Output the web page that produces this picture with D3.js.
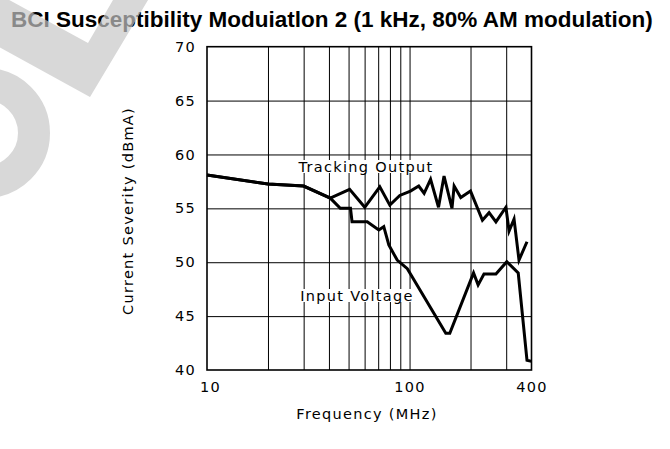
<!DOCTYPE html>
<html>
<head>
<meta charset="utf-8">
<script src="https://cdn.jsdelivr.net/npm/d3@7"></script>
<style>
  body { margin: 0; background: #fff; }
  svg { display: block; }
  .lbl { font-family: "DejaVu Sans", sans-serif; font-size: 14.5px; letter-spacing: 1.3px; fill: #000; }
</style>
</head>
<body>
<div id="chart"></div>
<script>
// data (frequency in MHz, current in dBmA)
var trackFreq = [10, 20, 30, 40.6, 50.6, 60.1, 71.3, 79.9, 89.5, 101, 111, 118, 127, 139, 148, 162, 166, 179, 200, 229, 247, 267, 299, 310, 328, 347, 380]
var trackVal = [58.1, 57.25, 57.07, 55.95, 56.76, 55.1, 57.0, 55.3, 56.2, 56.6, 57.07, 56.4, 57.7, 55.1, 58.0, 55.0, 57.07, 56.0, 56.6, 53.9, 54.6, 53.75, 55.1, 52.9, 54.0, 50.2, 51.9]
var inputFreq = [10, 20, 30, 40.6, 45.5, 51.1, 52, 61.8, 70.5, 74.6, 79, 86.9, 97.5, 151, 158, 207, 218, 233, 267, 302, 344, 380, 400]
var inputVal = [58.1, 57.25, 57.07, 55.95, 55.0, 55.0, 53.76, 53.76, 53.0, 53.3, 51.6, 50.2, 49.4, 43.4, 43.4, 49.0, 47.9, 48.9, 48.9, 50.05, 49.0, 40.9, 40.8]
var xGrid = [20, 30, 40, 50, 60, 70, 80, 90, 100, 200, 300]
var yGrid = [45, 50, 55, 60, 65]
var xTickLabels = [10, 100, 400]
var yTickLabels = [40, 45, 50, 55, 60, 65, 70]

var width = 670
var height = 449
var plot = {left: 207, right: 531.5, top: 46.7, bottom: 370}

var svg = d3.select('#chart').append('svg')
  .attr('width', width)
  .attr('height', height)

var x = d3.scaleLog().domain([10, 400]).range([plot.left, plot.right])
var y = d3.scaleLinear().domain([40, 70]).range([plot.bottom, plot.top])

// 网格
svg.append('g')
  .attr('transform', 'translate(0,' + plot.bottom + ')')
  .call(d3.axisBottom(x).tickValues(xGrid).tickSize(-(plot.bottom - plot.top)).tickFormat(''))
  .call(function (g) { g.select('.domain').remove() })
  .selectAll('line').attr('stroke', '#000').attr('stroke-width', 1)
svg.append('g')
  .attr('transform', 'translate(' + plot.left + ',0)')
  .call(d3.axisLeft(y).tickValues(yGrid).tickSize(-(plot.right - plot.left)).tickFormat(''))
  .call(function (g) { g.select('.domain').remove() })
  .selectAll('line').attr('stroke', '#000').attr('stroke-width', 1)

svg.append('rect')
  .attr('x', plot.left).attr('y', plot.top)
  .attr('width', plot.right - plot.left).attr('height', plot.bottom - plot.top)
  .attr('fill', 'none').attr('stroke', '#000').attr('stroke-width', 1.6)

// tick labels
var xa = svg.append('g')
  .attr('transform', 'translate(0,' + plot.bottom + ')')
  .call(d3.axisBottom(x).tickValues(xTickLabels).tickSize(0).tickPadding(12).tickFormat(d3.format('d')))
xa.select('.domain').remove()
xa.selectAll('text').attr('class', 'lbl').attr('font-family', null).attr('font-size', null)
xa.select('text').attr('dx', 3)

var ya = svg.append('g')
  .attr('transform', 'translate(' + plot.left + ',0)')
  .call(d3.axisLeft(y).tickValues(yTickLabels).tickSize(0).tickPadding(11).tickFormat(d3.format('d')))
ya.select('.domain').remove()
ya.selectAll('text').attr('class', 'lbl').attr('font-family', null).attr('font-size', null)

// curve labels with white backing
function curveLabel (txt, cx, by) {
  var g = svg.append('g')
  var r = g.append('rect').attr('fill', '#fff')
  var t = g.append('text').attr('class', 'lbl')
    .attr('x', cx).attr('y', by).attr('text-anchor', 'middle').text(txt)
  var b = t.node().getBBox()
  r.attr('x', b.x - 2).attr('y', b.y + 1).attr('width', b.width + 4).attr('height', b.height - 3)
}
curveLabel('Tracking Output', 366, 172)
curveLabel('Input Voltage', 357, 301)

var line = d3.line()
  .x(function (d) { return x(d[0]) })
  .y(function (d) { return y(d[1]) })

var series = [
  d3.zip(trackFreq, trackVal),
  d3.zip(inputFreq, inputVal)
]
svg.selectAll('path.curve')
  .data(series)
  .enter()
  .append('path')
  .attr('class', 'curve')
  .attr('d', line)
  .attr('fill', 'none')
  .attr('stroke', '#000')
  .attr('stroke-width', 3)
  .attr('stroke-linejoin', 'miter')

// axis titles
svg.append('text').attr('class', 'lbl')
  .attr('x', 367).attr('y', 419).attr('text-anchor', 'middle')
  .text('Frequency (MHz)')
svg.append('text').attr('class', 'lbl')
  .attr('transform', 'translate(133,211) rotate(-90)')
  .attr('text-anchor', 'middle')
  .text('Current Severity (dBmA)')

// title
svg.append('text')
  .attr('x', 11).attr('y', 26.5)
  .attr('font-family', '"Liberation Sans", Arial, sans-serif')
  .attr('font-weight', 'bold')
  .attr('font-size', '22.5px')
  .text('BCI Susceptibility Moduiatlon 2 (1 kHz, 80% AM modulation)')

// watermark (partly visible)
var wm = svg.append('g').attr('opacity', 0.69)
wm.append('path')
  .attr('d', 'M-10,-10.5 L88,43 L113,0 L119,-10 L154,-10 L90,97 L-10,42 Z')
  .attr('fill', 'rgb(199,199,199)')
wm.append('circle')
  .attr('cx', -15).attr('cy', 133).attr('r', 49)
  .attr('fill', 'none').attr('stroke', 'rgb(199,199,199)').attr('stroke-width', 32)
</script>
</body>
</html>
